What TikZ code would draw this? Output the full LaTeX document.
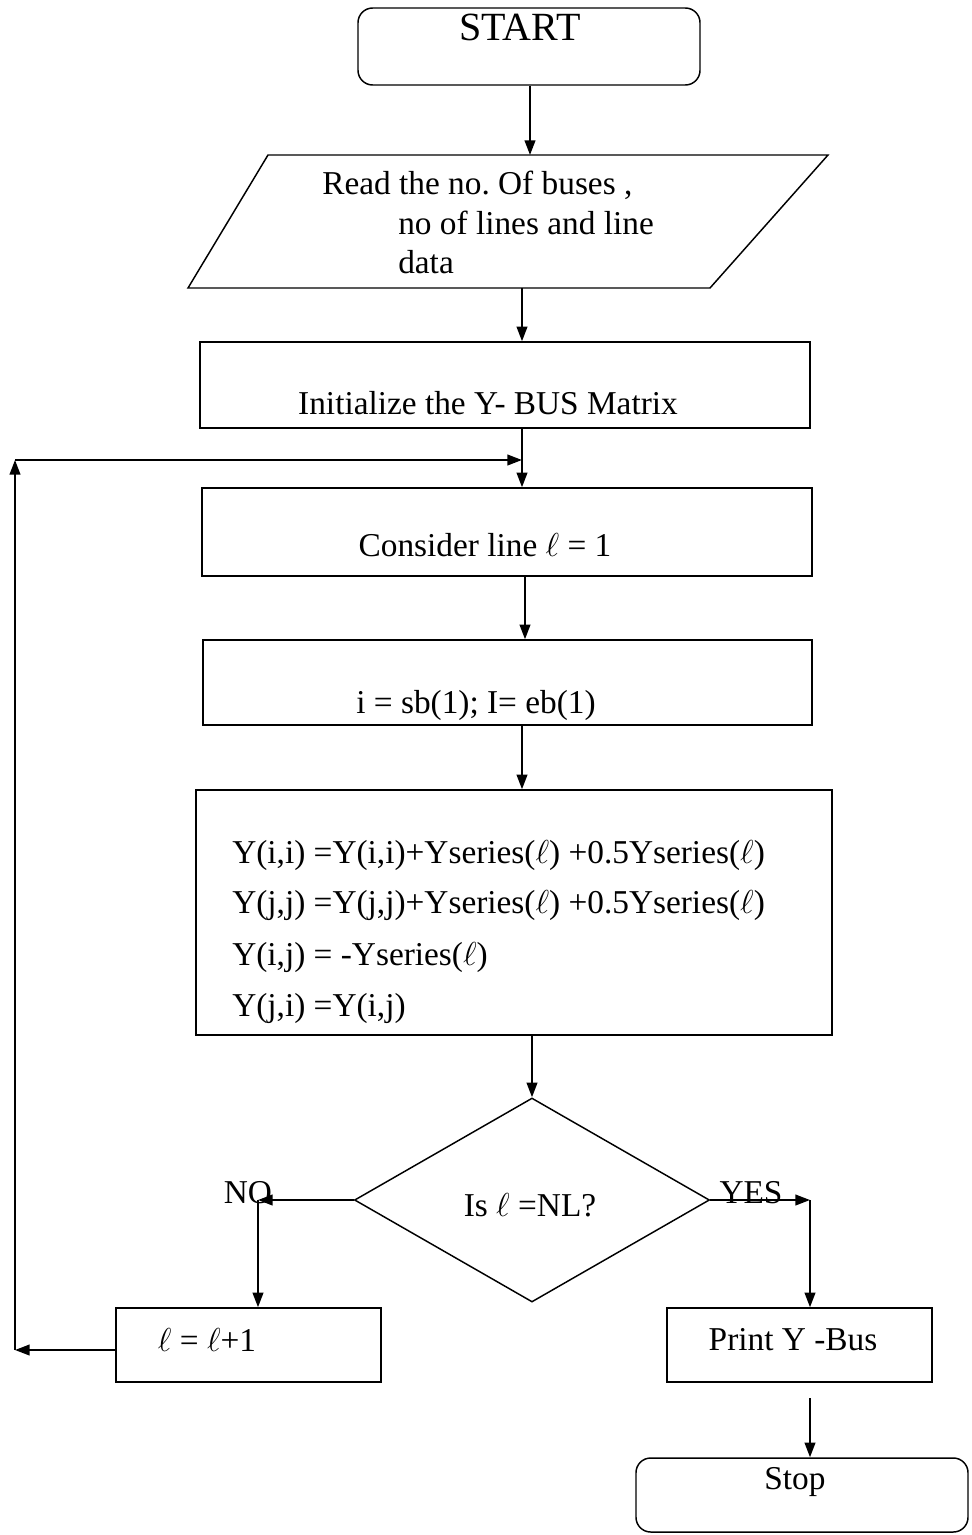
\documentclass[tikz,border=0pt]{standalone}
\usepackage{fontspec}
\setmainfont{Liberation Serif}
\usetikzlibrary{arrows.meta,shapes.geometric}
\frenchspacing
\begin{document}
\begin{tikzpicture}[x=0.75pt,y=-0.75pt,
  box/.style={draw, line width=1.1pt, inner sep=0pt},
  arr/.style={-{Triangle[length=11pt,width=8pt]}, line width=1.5pt},
  txt/.style={font=\fontsize{25}{30}\selectfont, inner sep=0pt}]
\useasboundingbox (0,0) rectangle (971,1535);
% boxes
\node[box, rounded corners=11pt, minimum width={342*0.75pt}, minimum height={77*0.75pt}] (start) at (529,46.5) {};
\node[txt, font=\fontsize{30}{36}\selectfont] (starttxt) at (520,27) {START};
\coordinate (r1) at (268,155);
\coordinate (r2) at (828,155);
\coordinate (r3) at (710,288);
\coordinate (r4) at (188,288);
\draw[line width=1.1pt] (r1) -- (r2) -- (r3) -- (r4) -- cycle;
\coordinate (readtop) at (530,155);
\coordinate (readbot) at (522,288);
\node[txt, anchor=west] (rd1) at (322,185) {Read the no. Of buses ,};
\node[txt, anchor=west] (rd2) at (398,223) {no of lines and line};
\node[txt, anchor=west] (rd3) at (398,262) {data};
\node[box, minimum width={610*0.75pt}, minimum height={86*0.75pt}] (init) at (505,385) {};
\node[txt] (inittxt) at (488,403) {Initialize the Y- BUS Matrix};
\node[box, minimum width={610*0.75pt}, minimum height={88*0.75pt}] (cons) at (507,532) {};
\node[txt] (constxt) at (485,545) {Consider line $\ell$ = 1};
\node[box, minimum width={609*0.75pt}, minimum height={85*0.75pt}] (isb) at (507.5,682.5) {};
\node[txt] (isbtxt) at (476,705) {i = sb(1); I= eb(1)};
\node[box, minimum width={636*0.75pt}, minimum height={245*0.75pt}] (ybox) at (514,912.5) {};
\node[txt, anchor=west] (y1) at (232,855) {Y(i,i) =Y(i,i)+Yseries($\ell$) +0.5Yseries($\ell$)};
\node[txt, anchor=west] (y2) at (232,905) {Y(j,j) =Y(j,j)+Yseries($\ell$) +0.5Yseries($\ell$)};
\node[txt, anchor=west] (y3) at (232,957) {Y(i,j) = -Yseries($\ell$)};
\node[txt, anchor=west] (y4) at (232,1008) {Y(j,i) =Y(i,j)};
\node[box, diamond, minimum width={355*0.75pt}, minimum height={204*0.75pt}] (dec) at (532,1200) {};
\node[txt] (dectxt) at (530,1205) {Is $\ell$ =NL?};
\node[box, minimum width={265*0.75pt}, minimum height={74*0.75pt}] (inc) at (248.5,1345) {};
\node[txt] (inctxt) at (207,1340) {$\ell$ = $\ell$+1};
\node[box, minimum width={265*0.75pt}, minimum height={74*0.75pt}] (print) at (799.5,1345) {};
\node[txt] (printtxt) at (793,1340) {Print Y -Bus};
\node[box, rounded corners=11pt, minimum width={332*0.75pt}, minimum height={74*0.75pt}] (stop) at (802,1495) {};
\node[txt] (stoptxt) at (795,1482) {Stop};
% x positions
\coordinate (x522) at (522,0);
\coordinate (x525) at (525,0);
\coordinate (x530) at (530,0);
\coordinate (x532) at (532,0);
% connectors
\draw[arr] (start.south -| x530) -- (readtop);
\draw[arr] (readbot) -- (init.north -| x522);
\draw[arr] (init.south -| x522) -- (cons.north -| x522);
\draw[arr] (cons.south -| x525) -- (isb.north -| x525);
\draw[arr] (isb.south -| x522) -- (ybox.north -| x522);
\draw[arr] (ybox.south -| x532) -- (dec.north);
\coordinate (nox) at (258,1200);
\coordinate (yesx) at (810,1200);
\draw[arr] (dec.west) -- (nox);
\draw[arr] (nox) -- (inc.north -| nox);
\draw[arr] (dec.east) -- (yesx);
\draw[arr] (yesx) -- (print.north -| yesx);
\coordinate (pbot) at (810,1398);
\draw[arr] (pbot) -- (stop.north -| pbot);
\coordinate (lp1) at (15,1350);
\coordinate (lp2) at (15,460);
\coordinate (lp3) at (522,460);
\draw[arr] (inc.west |- lp1) -- (lp1);
\draw[arr] (lp1) -- (lp2);
\draw[arr] (lp2) -- (lp3);
% labels
\node[txt] (nolbl) at (248,1193) {NO};
\node[txt] (yeslbl) at (751,1193) {YES};
\end{tikzpicture}
\end{document}
